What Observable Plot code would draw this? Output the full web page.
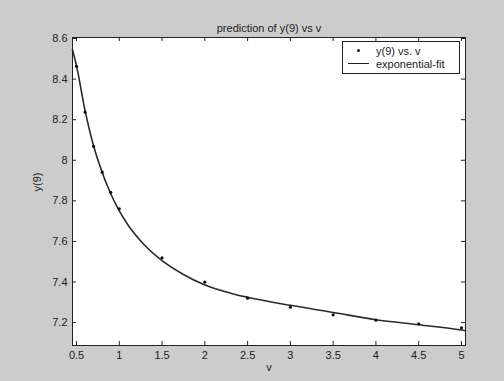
<!DOCTYPE html>
<html>
<head>
<meta charset="utf-8">
<script src="https://cdn.jsdelivr.net/npm/d3@7"></script>
<script src="https://cdn.jsdelivr.net/npm/@observablehq/plot@0.6"></script>
<style>
  html, body { margin: 0; padding: 0; background: #cccccc; }
  #wrap { position: relative; width: 504px; height: 381px; background: #cccccc; font-family: "Liberation Sans", Arial, sans-serif; }
  #legend { position: absolute; left: 342px; top: 41px; width: 116px; height: 31px; background: #fff; border: 1px solid #222; font-size: 11px; color: #222; }
  .row { position: absolute; left: 0; height: 12px; line-height: 12px; }
  .txt { position: absolute; left: 33px; white-space: nowrap; }
</style>
</head>
<body>
<div id="wrap">
  <div id="legend">
    <div class="row" style="top:3px;width:116px"><span style="position:absolute;left:14px;top:4px;width:3px;height:3px;border-radius:50%;background:#111"></span><span class="txt">y(9) vs. v</span></div>
    <div class="row" style="top:16px;width:116px"><span style="position:absolute;left:5px;top:5px;width:21px;height:0;border-top:1.5px solid #222"></span><span class="txt">exponential-fit</span></div>
  </div>
</div>
<script>
// Observed data points
const vData = [0.5, 0.6, 0.7, 0.8, 0.9, 1.0, 1.5, 2.0, 2.5, 3.0, 3.5, 4.0, 4.5, 5.0];
const yData = [8.463, 8.237, 8.068, 7.941, 7.842, 7.761, 7.519, 7.399, 7.320, 7.276, 7.238, 7.212, 7.194, 7.174];

// Exponential-fit curve
const vFit = [0.453, 0.5, 0.6, 0.7, 0.8, 0.9, 1.0, 1.1, 1.25, 1.5, 1.75, 2.0, 2.3, 2.5, 3.0, 3.5, 4.0, 4.5, 5.0, 5.047];
const yFit = [8.545, 8.465, 8.245, 8.070, 7.940, 7.835, 7.750, 7.682, 7.602, 7.505, 7.437, 7.385, 7.345, 7.325, 7.285, 7.250, 7.214, 7.189, 7.163, 7.160];

// Tick labels
const xTicks = [0.5, 1, 1.5, 2, 2.5, 3, 3.5, 4, 4.5, 5];
const yTicks = [7.2, 7.4, 7.6, 7.8, 8, 8.2, 8.4, 8.6];

const points = vData.map((v, i) => ({v, y: yData[i]}));
const fit = vFit.map((v, i) => ({v, y: yFit[i]}));

const W = 504, H = 381, mL = 72, mR = 39, mT = 37, mB = 36;
const pw = W - mL - mR, ph = H - mT - mB;
const tk = 4;

const chart = Plot.plot({
  width: W, height: H,
  marginLeft: mL, marginRight: mR, marginTop: mT, marginBottom: mB,
  style: { background: "transparent", fontFamily: "Liberation Sans, Arial, sans-serif", fontSize: "11px", color: "#222" },
  x: { domain: [0.453, 5.047] },
  y: { domain: [7.087, 8.605] },
  marks: [
    Plot.frame({ fill: "white", stroke: "none" }),
    Plot.axisX({ ticks: xTicks, tickSize: 0, tickPadding: 6, tickFormat: d => String(d), label: null, fill: "#222" }),
    Plot.axisY({ ticks: yTicks, tickSize: 0, tickPadding: 5, tickFormat: d => String(d), label: null, fill: "#222" }),
    Plot.tickX(xTicks, { x: d => d, insetTop: ph - tk, stroke: "#222" }),
    Plot.tickX(xTicks, { x: d => d, insetBottom: ph - tk, stroke: "#222" }),
    Plot.tickY(yTicks, { y: d => d, insetRight: pw - tk, stroke: "#222" }),
    Plot.tickY(yTicks, { y: d => d, insetLeft: pw - tk, stroke: "#222" }),
    Plot.line(fit, { x: "v", y: "y", stroke: "#2a2a2a", strokeWidth: 1.6, curve: "monotone-x" }),
    Plot.dot(points, { x: "v", y: "y", r: 1.6, fill: "#111", stroke: "none" }),
    Plot.frame({ stroke: "#222", strokeWidth: 1 }),
    Plot.text(["prediction of y(9) vs v"], { frameAnchor: "top", dy: -13, fill: "#222", fontSize: 11 }),
    Plot.text(["v"], { frameAnchor: "bottom", dy: 25, fill: "#222", fontSize: 11 }),
    Plot.text(["y(9)"], { frameAnchor: "left", dx: -35, rotate: -90, fill: "#222", fontSize: 11 })
  ]
});
document.getElementById("wrap").prepend(chart);
chart.style.position = "absolute";
chart.style.left = "0";
chart.style.top = "0";
</script>
</body>
</html>
